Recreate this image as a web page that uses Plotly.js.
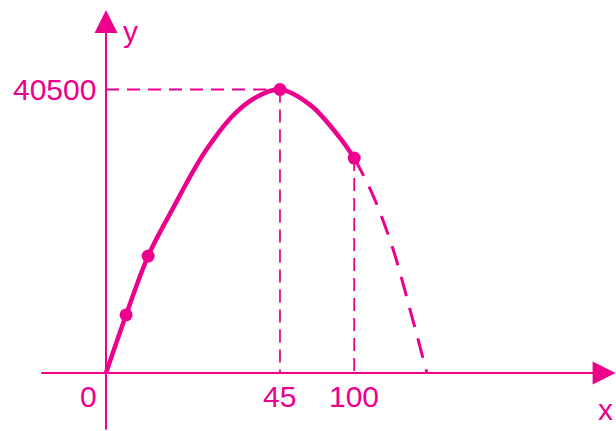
<!DOCTYPE html>
<html><head><meta charset="utf-8">
<script src="https://cdn.plot.ly/plotly-3.0.1.min.js"></script>
<style>html,body{margin:0;padding:0;background:#fff;}#chart{width:616px;height:431px;}</style>
</head><body><div id="chart"></div>
<script>
// Schematic (not to scale) drawing: x values are positions along the drawn axis,
// in units where the tick "45" sits at 45.
const solidX = [0, 5.2, 10.9, 17.1, 25.6, 33.4, 39.2, 45, 52.8, 60.5, 64.2];
const solidY = [0, 8300, 16700, 23300, 31600, 37100, 39500, 40500, 38300, 33600, 30700];
const dashX = [64.2, 68.8, 74.0, 79.1, 83.0];
const dashY = [30700, 25700, 18100, 8100, 0];
const pointX = [5.2, 10.9, 45, 64.2];
const pointY = [8300, 16700, 40500, 30700];
const xTickVals = [0, 45, 64.2];
const xTickText = ['0', '45', '100'];
const yTickVals = [40500];
const yTickText = ['40500'];
const axisNames = ['x', 'y'];

const C = '#EC008C';
const FONT = {family: 'Liberation Sans, Arial, sans-serif', size: 30, color: C};
const XR = [-27.41, 131.9], YR = [-8286, 53286];

const peakX = pointX[2], peakY = pointY[2];
const endX = pointX[3], endY = pointY[3];

const traces = [
  {x: [0, peakX], y: [peakY, peakY], mode: 'lines', line: {color: C, width: 1.8, dash: '13px,8px'}},
  {x: [peakX, peakX], y: [peakY, 0], mode: 'lines', line: {color: C, width: 1.8, dash: '13px,7px'}},
  {x: [endX, endX], y: [endY, 0], mode: 'lines', line: {color: C, width: 1.8, dash: '13px,7px'}},
  {x: dashX, y: dashY, mode: 'lines', line: {color: C, width: 3, dash: '20px,12px', shape: 'spline', smoothing: 1}},
  {x: solidX, y: solidY, mode: 'lines', line: {color: C, width: 4.5, shape: 'spline', smoothing: 1}},
  {x: pointX, y: pointY, mode: 'markers', marker: {color: C, size: 13}}
];

const annotations = [
  {x: XR[1] - 0.1, y: 0, ax: -17.1, ay: 0, xref: 'x', yref: 'y', axref: 'x', ayref: 'y', text: '',
   showarrow: true, arrowhead: 2, arrowsize: 2.3, arrowwidth: 2, arrowcolor: C},
  {x: 0, y: 51857, ax: 0, ay: YR[0], xref: 'x', yref: 'y', axref: 'x', ayref: 'y', text: '',
   showarrow: true, arrowhead: 2, arrowsize: 2.3, arrowwidth: 2, arrowcolor: C}
];
xTickVals.forEach((v, i) => annotations.push({
  x: v, y: 0, xref: 'x', yref: 'y', text: xTickText[i], showarrow: false,
  xanchor: 'center', yanchor: 'middle', yshift: -23, xshift: v === 0 ? -17 : 0, font: FONT
}));
yTickVals.forEach((v, i) => annotations.push({
  x: 0, y: v, xref: 'x', yref: 'y', text: yTickText[i], showarrow: false,
  xanchor: 'right', yanchor: 'middle', xshift: -8, font: FONT
}));
annotations.push({x: 605 / 616, y: 1 - 409 / 431, xref: 'paper', yref: 'paper', text: axisNames[0],
  showarrow: false, xanchor: 'center', yanchor: 'middle', font: FONT});
annotations.push({x: 130 / 616, y: 1 - 31 / 431, xref: 'paper', yref: 'paper', text: axisNames[1],
  showarrow: false, xanchor: 'center', yanchor: 'middle', font: FONT});

const layout = {
  width: 616, height: 431,
  margin: {l: 0, r: 0, t: 0, b: 0},
  paper_bgcolor: '#fff', plot_bgcolor: '#fff',
  showlegend: false,
  xaxis: {range: XR, visible: false, fixedrange: true},
  yaxis: {range: YR, visible: false, fixedrange: true},
  annotations: annotations
};
Plotly.newPlot('chart', traces, layout, {staticPlot: true, displayModeBar: false});
</script>
</body></html>
